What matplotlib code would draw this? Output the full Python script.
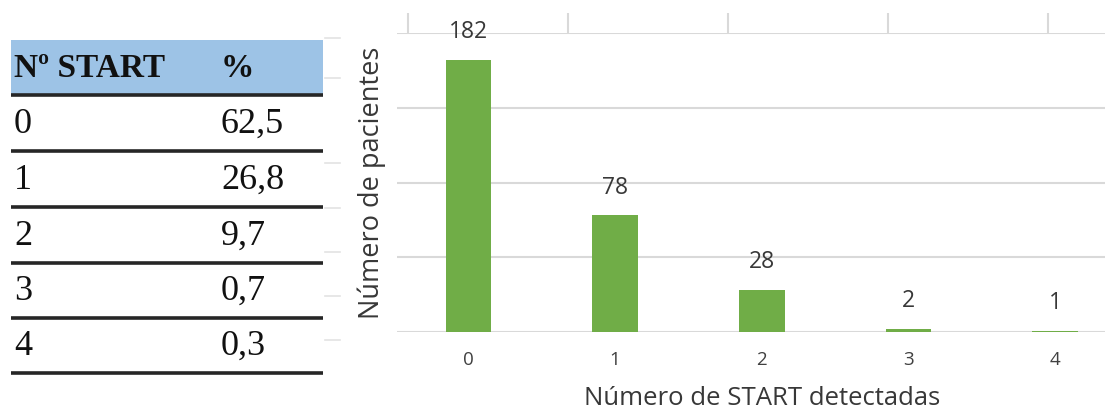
import matplotlib
matplotlib.use("Agg")
import matplotlib.pyplot as plt

# Data
categories = ["0", "1", "2", "3", "4"]
patients = [182, 78, 28, 2, 1]
table_header = ["Nº START", "%"]
table_start = ["0", "1", "2", "3", "4"]
table_pct = ["62,5", "26,8", "9,7", "0,7", "0,3"]
y_gridlines = [0, 50, 100, 150, 200]

W, H = 1105, 418
fig = plt.figure(figsize=(W / 100, H / 100), dpi=100)
fig.patch.set_facecolor("white")

text_color = "#383838"

# ---------- Bar chart ----------
ax = fig.add_axes([397 / W, (H - 332) / H, (W - 397) / W, (332 - 33) / H])
x = list(range(len(categories)))
ax.bar(x, patients, width=0.31, color="#70AD47", zorder=3)
ax.set_xlim(-0.487, 4.34)
ax.set_ylim(0, 200)
ax.set_yticks(y_gridlines)
ax.yaxis.grid(True, color="#D9D9D9", linewidth=1.5, zorder=0)
ax.tick_params(axis="y", length=0, labelleft=False)
ax.set_xticks(x)
ax.set_xticklabels(categories, fontsize=13.5, color="#404040", family="Open Sans")
ax.tick_params(axis="x", length=0, pad=14)
for s in ax.spines.values():
    s.set_visible(False)

for xi, v in zip(x, patients):
    ax.annotate(str(v), (xi, v), xytext=(0, 20), textcoords="offset points",
                ha="center", va="center", fontsize=16.5, color=text_color,
                family="Open Sans")

ax.set_ylabel("Número de pacientes", fontsize=19.5, color=text_color,
              family="Open Sans", labelpad=8)
ax.set_xlabel("Número de START detectadas", fontsize=18.5, color=text_color,
              family="Open Sans")
ax.xaxis.set_label_coords((762 - 397) / (W - 397), -0.18)

# ---------- Overlay in pixel units: table and separators ----------
ov = fig.add_axes([0, 0, 1, 1], zorder=-1)
ov.set_xlim(0, W)
ov.set_ylim(H, 0)
ov.axis("off")

# Short vertical separators above the chart
for px in [408, 568, 728, 888, 1048]:
    ov.plot([px, px], [13, 35], color="#D9D9D9", lw=1.5, solid_capstyle="butt")

# Faint gridline stubs to the right of the table
for py in [38, 78, 163, 208, 252, 296, 340]:
    ov.plot([325, 340], [py, py], color="#E3E3E3", lw=1.2)

# Table
tx0, tx1 = 11, 323
col_x = [14, 221]
header_top, header_bot = 40, 94
row_lines = [95, 151, 207, 263, 318, 373]

ov.fill_between([tx0, tx1], header_top, header_bot, color="#9DC3E6", lw=0)
for ly in row_lines:
    ov.plot([tx0, tx1], [ly, ly], color="#262626", lw=2.6, solid_capstyle="butt")

serif = ["Liberation Serif", "DejaVu Serif"]
for cx, txt in zip(col_x, table_header):
    ov.text(cx, header_bot - 17, txt, fontsize=24, fontweight="bold",
            family=serif, color="#111111", ha="left", va="baseline")

for i, (a, b) in enumerate(zip(table_start, table_pct)):
    base = row_lines[i + 1] - 18
    ov.text(col_x[0], base, a, fontsize=26, family=serif, color="#111111",
            ha="left", va="baseline")
    ov.text(col_x[1], base, b, fontsize=26, family=serif, color="#111111",
            ha="left", va="baseline")

fig.savefig("out.png", dpi=100, facecolor="white")
